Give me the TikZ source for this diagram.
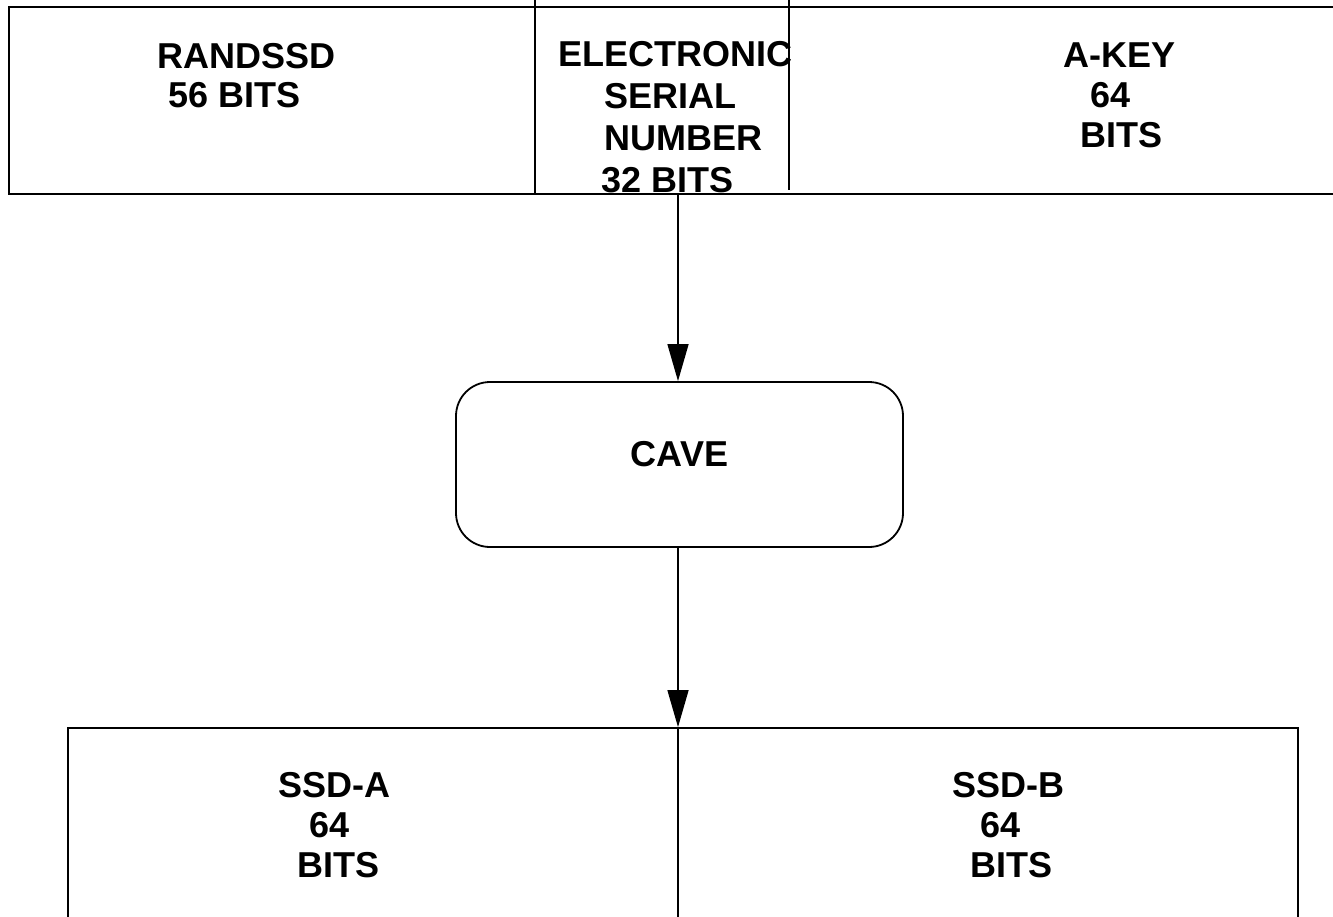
\documentclass[tikz,border=0pt]{standalone}
\usepackage{fontspec}
\setmainfont{Liberation Sans}
\usetikzlibrary{arrows.meta}
\begin{document}
\begin{tikzpicture}[x=1pt,y=-1pt,
  boxline/.style={draw=black,line width=1.8pt},
  divline/.style={draw=black,line width=1.4pt},
  cell/.style={boxline,rectangle,inner sep=0pt},
  % multi-line labels are placed by the baseline of their last line
  lbl/.style={inner sep=0pt,align=left,anchor=base west,
    font=\fontsize{36}{41}\selectfont\bfseries},
  lblb/.style={lbl,font=\fontsize{36}{40}\selectfont\bfseries},
  flow/.style={divline,-{Triangle[length=37pt,width=21pt]}}]
\useasboundingbox (0,0) rectangle (1333,916);
\clip (0,0) rectangle (1333,916);
\fill[white] (0,0) rectangle (1333,916);

% input register: RANDSSD | ESN | A-KEY
\node[cell,minimum width=1336pt,minimum height=187pt] (inreg) at (677,100.5) {};
\draw[divline] (535,0) -- (535,194);
\draw[divline] (789,0) -- (789,190);
\node[lbl,font=\fontsize{36}{39.5}\selectfont\bfseries] (randssd) at (157,107.5)
  {RANDSSD\\\hspace*{11pt}56 BITS};
\node[lbl,font=\fontsize{36}{41.7}\selectfont\bfseries] (esn) at (558,192)
  {ELECTRONIC\\\hspace*{46pt}SERIAL\\\hspace*{46pt}NUMBER\\\hspace*{43pt}32 BITS};
\node[lbl,font=\fontsize{36}{40}\selectfont\bfseries] (akey) at (1063,147)
  {A-KEY\\\hspace*{27pt}64\\\hspace*{17pt}BITS};

% CAVE algorithm
\node[boxline,rectangle,rounded corners=34pt,minimum width=447pt,minimum height=165pt,
  inner sep=0pt,text height=26pt,text depth=23pt,
  font=\fontsize{36}{41}\selectfont\bfseries] (cave) at (679.5,464.5) {CAVE\hspace{15pt}};

% output register: SSD-A | SSD-B
\node[cell,minimum width=1230pt,minimum height=212pt] (outreg) at (683,834) {};
\draw[divline] (678,728) -- (678,940);
\node[lblb] (ssda) at (278,877) {SSD-A\\\hspace*{31pt}64\\\hspace*{19pt}BITS};
\node[lblb] (ssdb) at (952,877) {SSD-B\\\hspace*{28pt}64\\\hspace*{18pt}BITS};

% data flow
\coordinate (feed) at (678,194);
\coordinate (caveout) at (678,547);
\draw[flow] (feed) -- (feed |- cave.north);
\draw[flow] (caveout) -- (caveout |- outreg.north);
\end{tikzpicture}
\end{document}
